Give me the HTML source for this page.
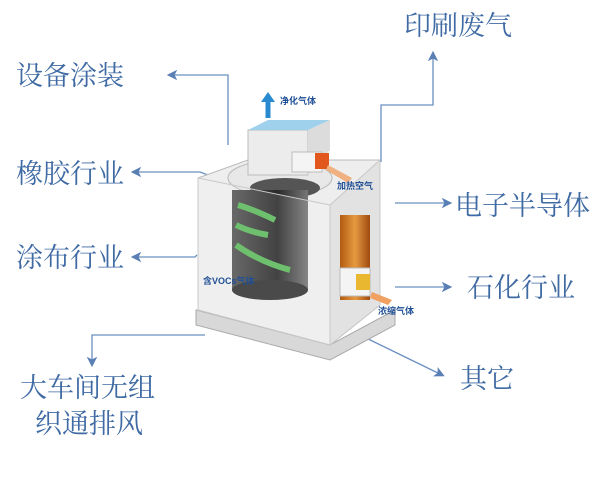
<!DOCTYPE html>
<html><head><meta charset="utf-8"><style>
html,body{margin:0;padding:0;background:#fff;}
.t{font-family:"Liberation Serif","Noto Serif CJK SC",serif;fill:#3f6aa3;font-size:27px;}
.s{font-family:"Liberation Sans","Noto Sans CJK SC",sans-serif;fill:#1f4f96;font-size:9px;font-weight:bold;}
</style></head><body>
<svg width="600" height="473" viewBox="0 0 600 473" xmlns="http://www.w3.org/2000/svg">
<defs>
<marker id="a" markerWidth="8" markerHeight="8" refX="4" refY="4" orient="auto"><path d="M0,0 L8,4 L0,8 L2,4Z" fill="#5a7fb5"/></marker>
<linearGradient id="cyl" x1="0" x2="1"><stop offset="0" stop-color="#555"/><stop offset="0.6" stop-color="#2a2a2a"/><stop offset="1" stop-color="#777"/></linearGradient>
<linearGradient id="hot" x1="0" x2="1"><stop offset="0" stop-color="#b35a10"/><stop offset="0.5" stop-color="#e59a40"/><stop offset="1" stop-color="#a04a10"/></linearGradient>
</defs>
<g stroke="#6a8fc0" stroke-width="1.3" fill="none">
<path d="M228,145 V75 H172" marker-end="url(#a)"/>
<path d="M208,175 L200,172 H136" marker-end="url(#a)"/>
<path d="M197,255 L195,257 H136" marker-end="url(#a)"/>
<path d="M381,162 V105 H433 V56" marker-end="url(#a)"/>
<path d="M395,203 H447" marker-end="url(#a)"/>
<path d="M395,287 H447" marker-end="url(#a)"/>
<path d="M360,335 L440,374" marker-end="url(#a)"/>
<path d="M205,335 H92 V362" marker-end="url(#a)"/>
</g>
<polygon points="196,310 330,345 395,310 395,325 330,360 196,325" fill="#d8d8d8" stroke="#aaa"/>
<polygon points="198,178 248,160 380,160 380,305 330,345 198,310" fill="#eeeeee" stroke="#bbb"/>
<ellipse cx="280" cy="178" rx="52" ry="18" fill="#e8e8e8" stroke="#bbb"/>
<ellipse cx="285" cy="188" rx="35" ry="10" fill="#555"/>
<rect x="232" y="190" width="76" height="100" fill="url(#cyl)"/>
<ellipse cx="270" cy="290" rx="38" ry="10" fill="#333"/>
<path d="M238,205 Q255,210 275,220 M236,225 Q250,232 268,235 M236,245 Q260,262 290,270" stroke="#5cb85c" stroke-width="6" fill="none"/>
<polygon points="198,178 330,205 330,345 198,310" fill="#f5f5f5" fill-opacity="0.12" stroke="#c8c8c8"/>
<polygon points="330,205 380,160 380,305 330,345" fill="#e2e2e2" stroke="#c8c8c8"/>
<rect x="340" y="215" width="30" height="85" fill="url(#hot)"/>
<rect x="340" y="268" width="30" height="28" fill="#f4f4f4" stroke="#bbb"/>
<rect x="356" y="274" width="14" height="16" fill="#e9b830"/>
<polygon points="372,292 392,300 388,305 370,298" fill="#f0a060"/>
<rect x="248" y="130" width="60" height="45" fill="#ececec" stroke="#bbb"/>
<polygon points="248,130 268,120 330,120 308,130" fill="#9fd0ec"/>
<polygon points="308,130 330,120 330,150 308,175" fill="#dcdcdc"/>
<rect x="292" y="152" width="30" height="20" fill="#f4f4f4" stroke="#bbb"/>
<rect x="315" y="153" width="14" height="16" fill="#e2571e"/>
<polygon points="328,165 352,178 348,183 326,170" fill="#f0b080"/>
<path d="M268,118 V100" stroke="#2a8ad0" stroke-width="5"/>
<polygon points="261,102 268,92 275,102" fill="#2a8ad0"/>
<text class="s" x="280" y="104">净化气体</text>
<text class="s" x="337" y="189">加热空气</text>
<text class="s" x="203" y="284">含VOCs气体</text>
<text class="s" x="378" y="314">浓缩气体</text>
<text class="t" x="404" y="35">印刷废气</text>
<text class="t" x="16" y="85">设备涂装</text>
<text class="t" x="16" y="183">橡胶行业</text>
<text class="t" x="16" y="267">涂布行业</text>
<text class="t" x="455" y="215">电子半导体</text>
<text class="t" x="467" y="297">石化行业</text>
<text class="t" x="460" y="388">其它</text>
<text class="t" x="20" y="397">大车间无组</text>
<text class="t" x="35" y="433">织通排风</text>
</svg>
</body></html>
